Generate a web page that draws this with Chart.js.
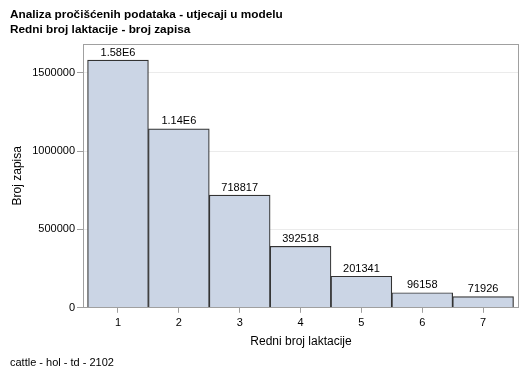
<!DOCTYPE html>
<html><head><meta charset="utf-8">
<script src="https://cdn.jsdelivr.net/npm/chart.js@4"></script>
<style>html,body{margin:0;padding:0;background:#fff;}#c{display:block;}</style>
</head><body>
<canvas id="c" width="529" height="378"></canvas>
<script>
const titleLines = ["Analiza pročišćenih podataka - utjecaji u modelu", "Redni broj laktacije - broj zapisa"];
const footerText = "cattle - hol - td - 2102";
const xTitle = "Redni broj laktacije";
const yTitle = "Broj zapisa";
const categories = [1, 2, 3, 4, 5, 6, 7];
const counts = [1580000, 1142000, 718817, 392518, 201341, 96158, 71926];
const yTicks = [0, 500000, 1000000, 1500000];

const FONT = "'Liberation Sans', Arial, sans-serif";
function fmt(v){ return v >= 1e6 ? (v/1e6).toFixed(2) + 'E6' : String(v); }

const framePlugin = {
  id: 'frame',
  afterDatasetsDraw(chart){
    const {ctx, chartArea:a} = chart;
    ctx.save();
    ctx.strokeStyle = '#a0a0a0'; ctx.lineWidth = 1;
    ctx.strokeRect(Math.round(a.left)+0.5, Math.round(a.top)+0.5, Math.round(a.right-a.left)-1, Math.round(a.bottom-a.top)-1);
    ctx.fillStyle = '#000'; ctx.font = '11px ' + FONT;
    ctx.textAlign = 'center'; ctx.textBaseline = 'bottom';
    chart.getDatasetMeta(0).data.forEach((bar, i) => {
      ctx.fillText(fmt(counts[i]), bar.x, bar.y - 2);
    });
    ctx.restore();
  }
};

new Chart(document.getElementById('c'), {
  type: 'bar',
  data: {
    datasets: [{
      data: categories.map((c, i) => ({x: c, y: counts[i]})),
      backgroundColor: '#cbd5e5',
      borderColor: '#333333',
      borderWidth: 1.2,
      barPercentage: 1,
      categoryPercentage: 1
    }]
  },
  options: {
    responsive: false,
    animation: false,
    devicePixelRatio: 1,
    layout: {padding: {left: 10, right: 10, top: 0, bottom: 0}},
    plugins: {
      legend: {display: false},
      tooltip: {enabled: false},
      title: {display: true, text: titleLines, align: 'start', color: '#000',
        font: {family: FONT, size: 11.8, weight: 'bold', lineHeight: 1.3}, padding: {top: 7, bottom: 6}},
      subtitle: {display: true, text: footerText, position: 'bottom', align: 'start', color: '#000',
        font: {family: FONT, size: 11, lineHeight: 1.2}, padding: {top: 0, bottom: 8}}
    },
    scales: {
      x: {
        type: 'linear', min: 0.425, max: 7.59, offset: false,
        afterBuildTicks: s => { s.ticks = categories.map(v => ({value: v})); },
        afterFit: s => { s.height = 49; },
        grid: {drawOnChartArea: false, drawTicks: true, tickLength: 5, tickColor: '#a0a0a0', offset: false},
        border: {display: false},
        ticks: {color: '#000', font: {family: FONT, size: 11}, padding: 4},
        title: {display: true, text: xTitle, color: '#000', font: {family: FONT, size: 12}, padding: {top: 0, bottom: 8}}
      },
      y: {
        min: 0, max: 1685000,
        afterBuildTicks: s => { s.ticks = yTicks.map(v => ({value: v})); },
        afterFit: s => { s.width = 73; },
        grid: {color: '#ebebeb', drawTicks: true, tickLength: 6, tickColor: '#a0a0a0'},
        border: {display: false},
        ticks: {color: '#000', font: {family: FONT, size: 11}, padding: 2, callback: v => String(v)},
        title: {display: true, text: yTitle, color: '#000', font: {family: FONT, size: 12}, padding: {top: 0, bottom: 0}}
      }
    }
  },
  plugins: [framePlugin]
});
</script>
</body></html>
